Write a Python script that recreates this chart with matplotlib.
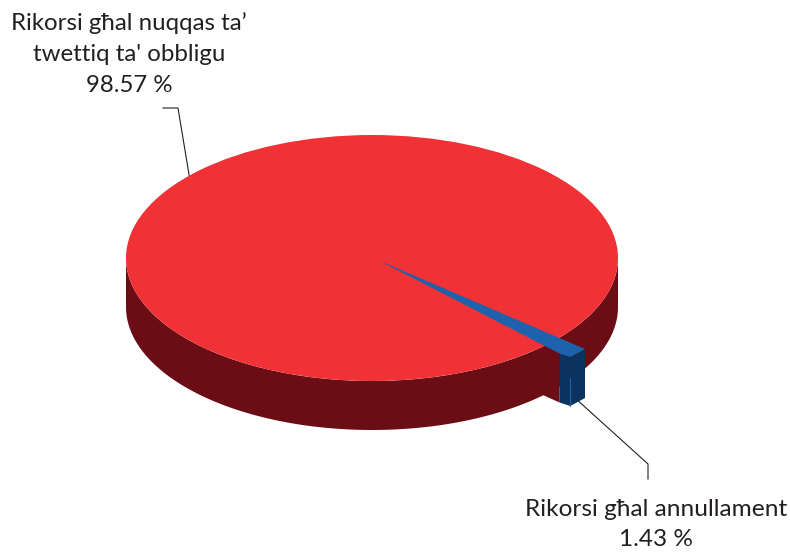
import matplotlib
matplotlib.use("Agg")
import matplotlib.pyplot as plt
import numpy as np
from matplotlib.patches import Ellipse, Polygon

labels = ["Rikorsi għal nuqqas ta’\ntwettiq ta' obbligu", "Rikorsi għal annullament"]
shares = [98.57, 1.43]

RED = "#F03135"
RED_DARK = "#6B0D15"
BLUE = "#1E62AE"
BLUE_DARK = "#0B335F"
INK = "#231F20"

# pie geometry in pixels
CX, CY = 372, 258
RX, RY = 246, 123
DEPTH = 49
APEX = np.array([378.0, 260.0])
START = 40.7  # degrees, clockwise on screen because y is flipped

plt.rcParams["font.family"] = ["Lato", "DejaVu Sans"]


def on_rim(a, r=1.0, origin=(CX, CY), drop=0):
    t = np.radians(a)
    return np.array([origin[0] + r * RX * np.cos(t), origin[1] + r * RY * np.sin(t) + drop])


fig = plt.figure(figsize=(7.9, 5.54), dpi=100)
ax = fig.add_axes([0, 0, 1, 1])
ax.set_xlim(0, 790)
ax.set_ylim(554, 0)
ax.axis("off")

# side wall of the big slice
ts = np.linspace(0, 180, 200)
upper = np.array([on_rim(a) for a in ts])
lower = np.array([on_rim(a, drop=DEPTH) for a in ts])[::-1]
ax.add_patch(Polygon(np.vstack([upper, lower]), fc=RED_DARK, ec="none", zorder=1))

# small slice, pulled out a bit
end = START + 360 * shares[1] / sum(shares)
right = on_rim(START, 1.11, APEX)
front = on_rim(end - 0.6, 1.11, APEX)
left = on_rim(end, 1.06, APEX)
drop = np.array([0, DEPTH])

# cut wall beside the small slice
ax.add_patch(Polygon([on_rim(end), left, left + drop, on_rim(end, drop=DEPTH)],
                     fc=RED_DARK, ec="none", zorder=2))
ax.add_patch(Ellipse((CX, CY), 2 * RX, 2 * RY, fc=RED, ec="none", zorder=3))

ax.add_patch(Polygon([left, front, front + drop, left + drop], fc=BLUE_DARK, ec="none", zorder=4))
ax.add_patch(Polygon([front, right, right + drop, front + drop], fc=BLUE_DARK, ec="none", zorder=4))
ax.add_patch(Polygon([APEX, right, front, left], fc=BLUE, ec="none", zorder=5))
ax.plot([front[0], front[0]], [front[1] + 21, front[1] + DEPTH], color=BLUE, lw=0.7, zorder=6)

# leader lines
tip = on_rim(-138)
ax.plot([163, 178, tip[0]], [108, 108, tip[1]], color=INK, lw=0.8, zorder=2, solid_joinstyle="miter")
foot = front + drop
ax.plot([foot[0] + 8, 648, 648], [foot[1] - 5, 464, 479], color=INK, lw=0.8, zorder=2, solid_joinstyle="miter")

ax.text(129, 54, f"{labels[0]}\n{shares[0]:.2f} %", ha="center", va="center",
        fontsize=17.3, color=INK, linespacing=1.58)
ax.text(656, 524.5, f"{labels[1]}\n{shares[1]:.2f} %", ha="center", va="center",
        fontsize=17.6, color=INK, linespacing=1.5)

fig.savefig("out.png", dpi=100)
